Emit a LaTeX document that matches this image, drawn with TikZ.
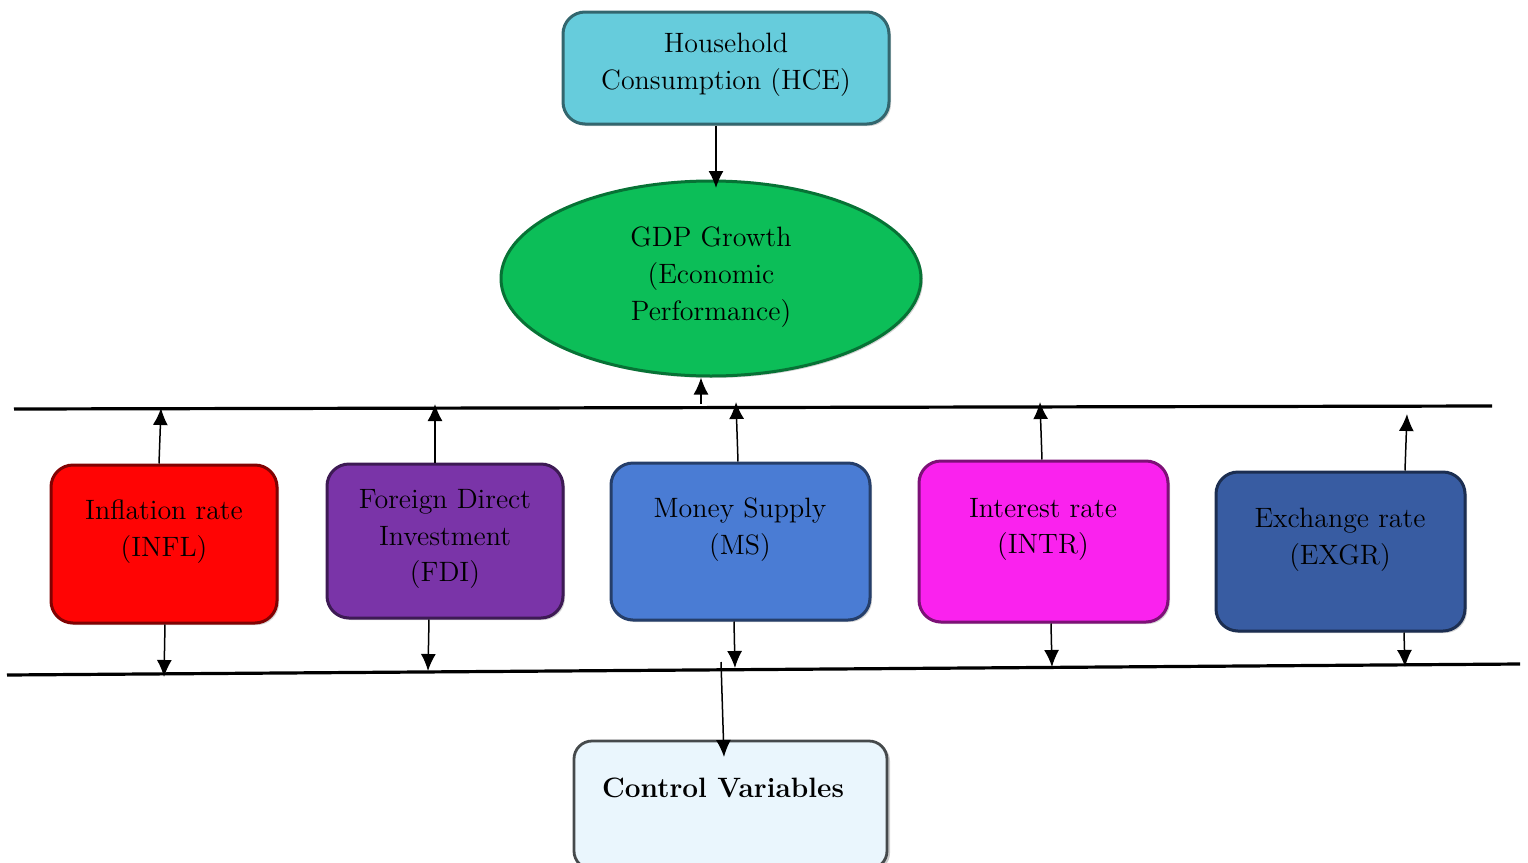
\documentclass[tikz,border=0pt]{standalone}
\usetikzlibrary{arrows.meta,shadows,shapes.geometric}
\definecolor{hce}{RGB}{102,204,220}
\definecolor{gdp}{RGB}{12,190,88}
\definecolor{infl}{RGB}{255,4,4}
\definecolor{fdi}{RGB}{122,52,168}
\definecolor{ms}{RGB}{74,124,212}
\definecolor{intr}{RGB}{250,34,238}
\definecolor{exgr}{RGB}{56,92,162}
\definecolor{ctrl}{RGB}{234,246,253}
\tikzset{
  box/.style={draw=#1!50!black, line width=1.5pt, fill=#1, rounded corners=11pt, inner sep=0pt,
    drop shadow={shadow xshift=1pt, shadow yshift=-1pt, opacity=0.35}},
  lbl/.style={align=center, font=\fontsize{14}{18.4}\selectfont, inner sep=0pt},
  conn/.style={line width=0.75pt, -{Latex[length=8.5pt,width=7.5pt]}},
  bar/.style={line width=1.6pt}
}
\begin{document}
\begin{tikzpicture}[x=0.5pt,y=-0.5pt]
\useasboundingbox (0,0) rectangle (1528,863);
% top node and ellipse
\node[box=hce, minimum width=163pt, minimum height=56pt] (hce) at (726,68) {};
\node[lbl] at (726,65) {Household\\Consumption (HCE)};
\node[draw=gdp!60!black, line width=1.5pt, fill=gdp, ellipse, inner sep=0pt,
      minimum width=210pt, minimum height=97.5pt,
      drop shadow={shadow xshift=1pt, shadow yshift=-1pt, opacity=0.35}] (gdp) at (711,278.5) {};
\node[lbl] at (711,277) {GDP Growth\\(Economic\\Performance)};
% bars
\coordinate (t1) at (14,409); \coordinate (t2) at (1492,406);
\coordinate (b1) at (7,675); \coordinate (b2) at (1520,664);
\draw[bar] (t1) -- (t2);
\draw[bar] (b1) -- (b2);
% middle boxes
\node[box=infl, minimum width=113pt, minimum height=79pt] (infl) at (164,544) {};
\node[lbl] at (164,532) {Inflation rate\\(INFL)};
\node[box=fdi, minimum width=118pt, minimum height=77pt] (fdi) at (445,541) {};
\node[lbl] at (445,539) {Foreign Direct\\Investment\\(FDI)};
\node[box=ms, minimum width=129.5pt, minimum height=78.5pt] (ms) at (740.5,541.5) {};
\node[lbl] at (740,529.5) {Money Supply\\(MS)};
\node[box=intr, minimum width=124.5pt, minimum height=80.5pt] (intr) at (1043.5,541.5) {};
\node[lbl] at (1043,529.5) {Interest rate\\(INTR)};
\node[box=exgr, minimum width=124.5pt, minimum height=79.5pt] (exgr) at (1340.5,551.5) {};
\node[lbl] at (1340,539.5) {Exchange rate\\(EXGR)};
% control box
\node[draw=ctrl!30!black, line width=1.4pt, fill=ctrl, rounded corners=9pt, inner sep=0pt,
      minimum width=156.5pt, minimum height=64pt,
      drop shadow={shadow xshift=1.5pt, shadow yshift=-1pt, opacity=0.4}] (ctrl) at (730.5,805) {};
\node[lbl, font=\fontsize{14}{18.4}\selectfont\bfseries] at (723,788) {Control Variables};
% arrow end coordinates
\coordinate (u1) at (161,408); \coordinate (d1) at (164,677);
\coordinate (u2) at (435,404); \coordinate (d2) at (428,671);
\coordinate (u3) at (736,402); \coordinate (d3) at (735,668);
\coordinate (u4) at (1040,402); \coordinate (d4) at (1052,667);
\coordinate (u5) at (1407,414); \coordinate (d5) at (1405,667);
\coordinate (g0) at (701,404);
\coordinate (c0) at (721,662);
% connectors
\draw[conn] (hce.south -| 716,0) -- (716,188);
\draw[conn] (g0) -- (gdp.south -| 701,0);
\draw[conn] (infl.north -| 159,0) -- (u1);
\draw[conn] (infl.south -| 165,0) -- (d1);
\draw[conn] (fdi.north -| 435,0) -- (u2);
\draw[conn] (fdi.south -| 429,0) -- (d2);
\draw[conn] (ms.north -| 738,0) -- (u3);
\draw[conn] (ms.south -| 734,0) -- (d3);
\draw[conn] (intr.north -| 1042,0) -- (u4);
\draw[conn] (intr.south -| 1051,0) -- (d4);
\draw[conn] (exgr.north -| 1405,0) -- (u5);
\draw[conn] (exgr.south -| 1404,0) -- (d5);
\draw[conn] (c0) -- (724,757);
\end{tikzpicture}
\end{document}
